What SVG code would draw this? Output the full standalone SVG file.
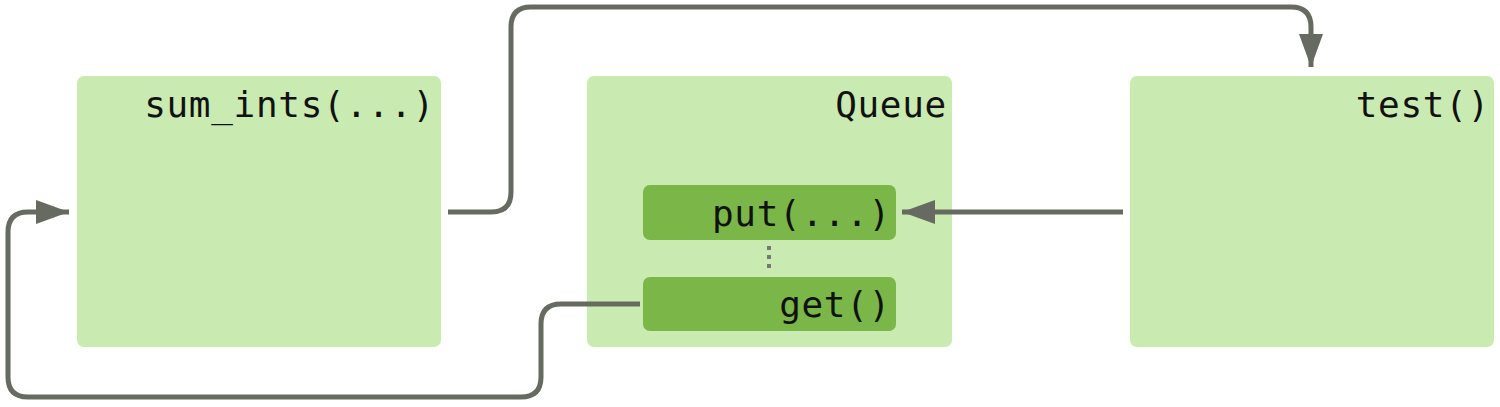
<svg xmlns="http://www.w3.org/2000/svg" width="1500" height="407" viewBox="0 0 1500 407">
<style>
.outer{fill:#c9eab0}
.inner{fill:#7ab648}
.lbl{font-family:"DejaVu Sans Mono","Liberation Mono",monospace;font-size:36px;letter-spacing:0.7px;fill:#111;text-anchor:end}
.conn{fill:none;stroke:#666a60;stroke-width:5}
</style>
<defs>
<marker id="arr" viewBox="0 0 33 24" refX="33" refY="12" markerWidth="33" markerHeight="24" markerUnits="userSpaceOnUse" orient="auto">
<path d="M0,0 L33,12 L0,24 Z" fill="#666a60"/>
</marker>
</defs>
<g id="sum_ints">
<rect class="outer" x="77" y="76" width="364" height="271" rx="7"/>
<text class="lbl" x="435" y="117">sum_ints(...)</text>
</g>
<g id="queue">
<rect class="outer" x="587" y="76" width="365" height="271" rx="7"/>
<text class="lbl" x="947" y="117">Queue</text>
</g>
<g id="put">
<rect class="inner" x="643" y="185" width="253" height="55" rx="7"/>
<text class="lbl" x="891" y="226">put(...)</text>
</g>
<g id="get">
<rect class="inner" x="643" y="277" width="253" height="54" rx="7"/>
<text class="lbl" x="891" y="317">get()</text>
</g>
<g id="test">
<rect class="outer" x="1130" y="76" width="364" height="271" rx="7"/>
<text class="lbl" x="1490" y="117">test()</text>
</g>
<g id="connectors">
<path class="conn" d="M448,212 H491 Q511,212 511,192 V27 Q511,7 531,7 H1291 Q1311,7 1311,27 V67" marker-end="url(#arr)"/>
<path class="conn" d="M1123,212 H902" marker-end="url(#arr)"/>
<path class="conn" d="M640,304 H561 Q541,304 541,324 V377 Q541,397 521,397 H28 Q8,397 8,377 V232 Q8,212 28,212 H69" marker-end="url(#arr)"/>
<path d="M769,246 V273" fill="none" stroke="#777" stroke-width="4" stroke-dasharray="4,5"/>
</g>
</svg>
